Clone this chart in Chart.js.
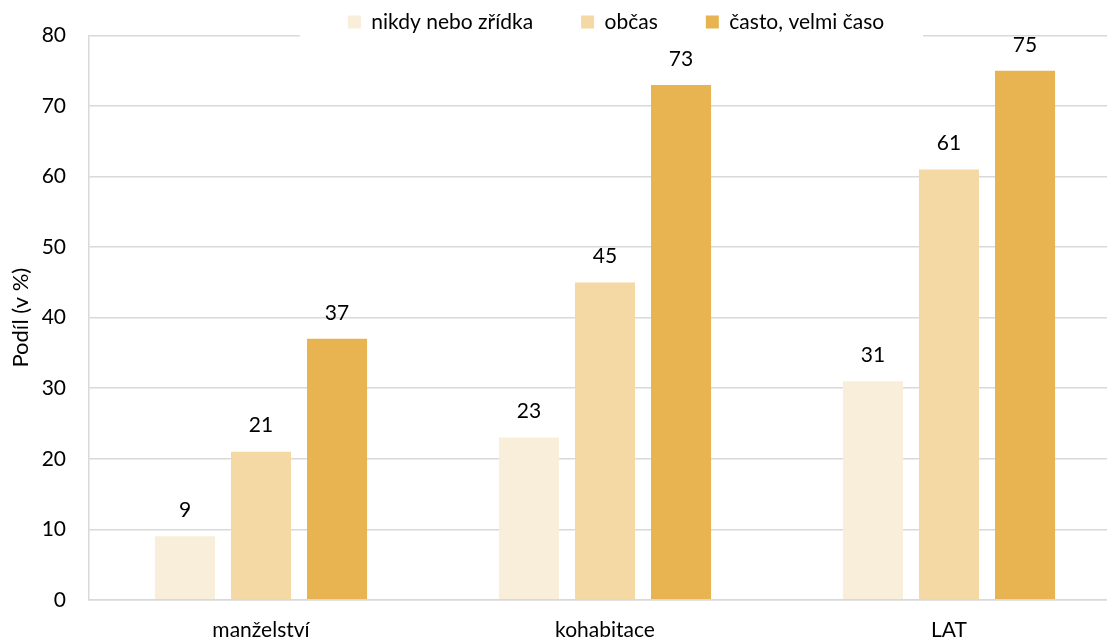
<!DOCTYPE html>
<html>
<head>
<meta charset="utf-8">
<title>Podíl podle typu soužití</title>
<script src="https://cdn.jsdelivr.net/npm/chart.js@4.4.1/dist/chart.umd.min.js"></script>
<style>
  html, body { margin: 0; padding: 0; background: #ffffff; overflow: hidden; }
  #wrap { width: 1107px; height: 639px; overflow: hidden; position: relative; }
  canvas { display: block; }
</style>
</head>
<body>
<div id="wrap"><canvas id="chart" width="1232" height="639" style="width:1232px;height:639px"></canvas></div>
<script>
// Categories and values (percentages)
const categories = ['manželství', 'kohabitace', 'LAT'];
const seriesNames = ['nikdy nebo zřídka', 'občas', 'často, velmi časo'];
const neverOrRarely = [9, 23, 31];
const sometimes = [21, 45, 61];
const oftenOrVeryOften = [37, 73, 75];
const yTickValues = [0, 10, 20, 30, 40, 50, 60, 70, 80];

const seriesColors = ['#F9EEDA', '#F4D9A5', '#E8B452'];
const FONT = 'Lato, "Open Sans", "DejaVu Sans", sans-serif';
const GRID = '#d9d9d9';

Chart.defaults.font.family = FONT;
Chart.defaults.color = '#000000';

// Value labels above each bar
const valueLabels = {
  id: 'valueLabels',
  afterDatasetsDraw(chart) {
    const ctx = chart.ctx;
    ctx.save();
    ctx.font = '21px ' + FONT;
    ctx.fillStyle = '#000000';
    ctx.textAlign = 'center';
    ctx.textBaseline = 'middle';
    chart.data.datasets.forEach((ds, i) => {
      const meta = chart.getDatasetMeta(i);
      meta.data.forEach((bar, j) => {
        ctx.fillText(String(ds.data[j]), bar.x, bar.y - 26);
      });
    });
    ctx.restore();
  }
};

// White panel behind the legend, cutting through the top gridline
const legendPanel = {
  id: 'legendPanel',
  afterDraw(chart) {
    const lg = chart.legend;
    if (!lg || !lg.legendHitBoxes || !lg.legendHitBoxes.length) return;
    const boxes = lg.legendHitBoxes;
    const left = Math.min(...boxes.map(b => b.left)) - 48;
    const right = Math.max(...boxes.map(b => b.left + b.width)) + 39;
    const ctx = chart.ctx;
    ctx.save();
    ctx.fillStyle = '#ffffff';
    ctx.fillRect(left, 0, right - left, chart.chartArea.top + 3);
    ctx.restore();
    lg.draw();
  }
};

const yTickSet = new Set(yTickValues);

new Chart(document.getElementById('chart'), {
  type: 'bar',
  data: {
    labels: categories,
    datasets: [
      { label: seriesNames[0], data: neverOrRarely, backgroundColor: seriesColors[0] },
      { label: seriesNames[1], data: sometimes, backgroundColor: seriesColors[1] },
      { label: seriesNames[2], data: oftenOrVeryOften, backgroundColor: seriesColors[2] }
    ]
  },
  options: {
    responsive: false,
    animation: false,
    devicePixelRatio: 1,
    layout: { padding: { top: -37, left: 0, right: 0, bottom: -22 } },
    datasets: {
      bar: { barPercentage: 0.79, categoryPercentage: 0.663, borderWidth: 0 }
    },
    plugins: {
      tooltip: { enabled: false },
      legend: {
        position: 'top',
        maxHeight: 72,
        labels: {
          boxWidth: 13,
          boxHeight: 13,
          padding: 48,
          color: '#000000',
          font: { size: 21, family: FONT }
        }
      }
    },
    scales: {
      x: {
        grid: { display: false, drawTicks: false },
        border: { display: true, color: GRID, width: 1.5 },
        ticks: { padding: 18, font: { size: 21, family: FONT }, color: '#000000' }
      },
      y: {
        min: 0,
        max: 80,
        afterFit(scale) { scale.width = 89; },
        afterBuildTicks(scale) {
          scale.ticks = yTickValues.map(v => ({ value: v }));
        },
        grid: { color: GRID, lineWidth: 1.5, drawTicks: false },
        border: { display: true, color: GRID, width: 1.5 },
        ticks: {
          padding: 23,
          font: { size: 21, family: FONT },
          color: '#000000',
          callback: (v) => (yTickSet.has(v) ? String(v) : '')
        },
        title: {
          display: true,
          text: 'Podíl (v %)',
          color: '#000000',
          font: { size: 22, family: FONT },
          padding: { top: 8, bottom: 0 }
        }
      },
      // empty right-hand strip; the plot runs on past the visible edge
      margin: {
        type: 'linear',
        position: 'right',
        min: 0,
        max: 80,
        afterFit(scale) { scale.width = 111; },
        grid: { display: false, drawTicks: false },
        border: { display: false },
        ticks: { display: false }
      }
    }
  },
  plugins: [valueLabels, legendPanel]
});
</script>
</body>
</html>
